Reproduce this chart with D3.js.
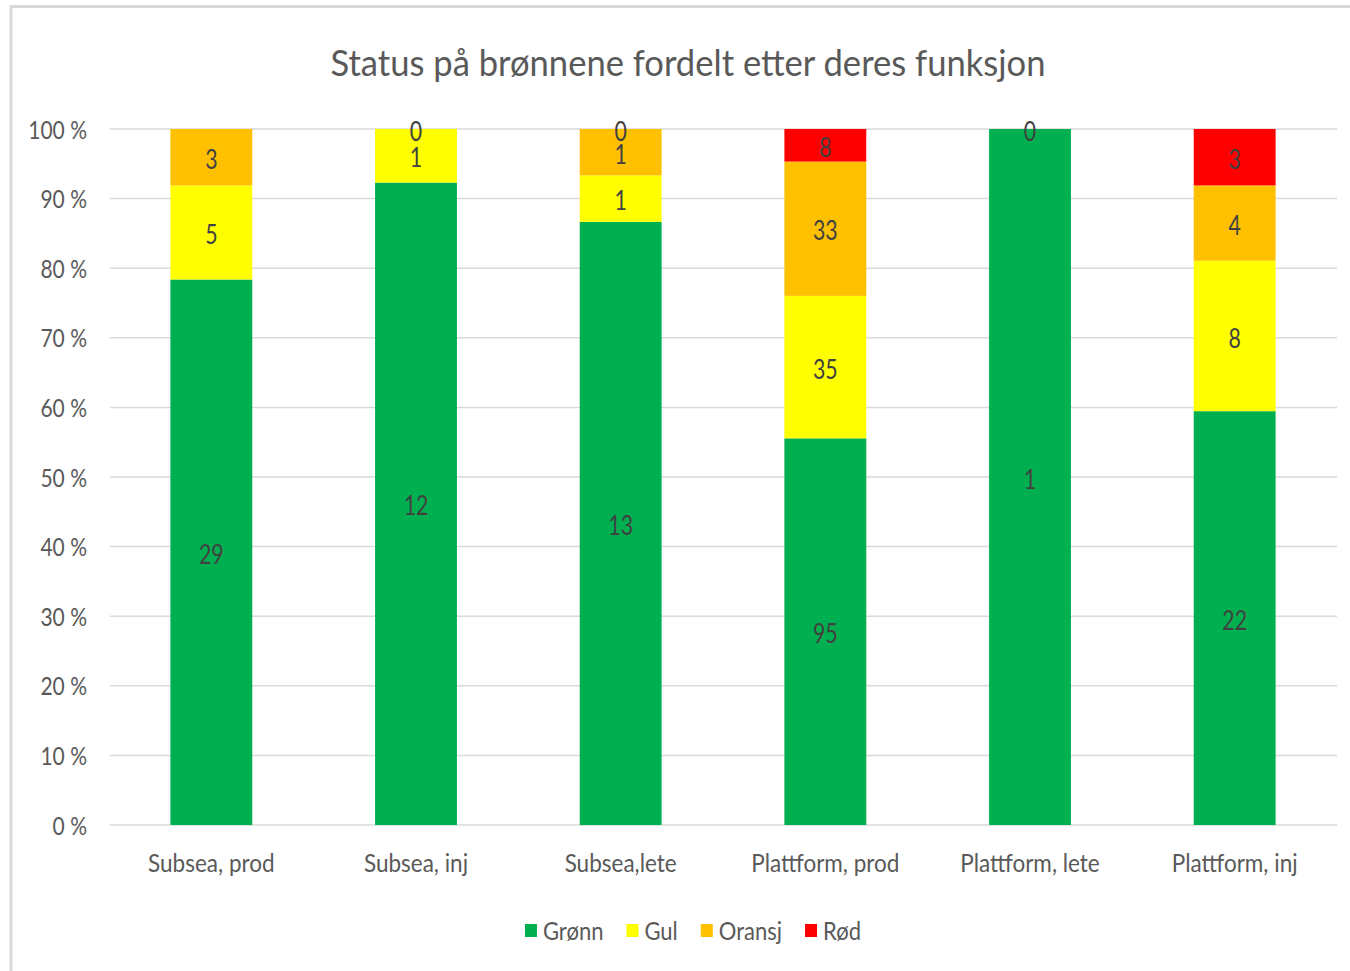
<!DOCTYPE html>
<html>
<head>
<meta charset="utf-8">
<script src="https://cdn.jsdelivr.net/npm/d3@7"></script>
<style>
	body { margin: 0; background: #fff; }
	svg text { font-family: Lato, 'Open Sans', sans-serif; }
</style>
</head>
<body>
<svg id="chart" width="1350" height="971"></svg>
<script>
const title = 'Status på brønnene fordelt etter deres funksjon'
const categories = ['Subsea, prod', 'Subsea, inj', 'Subsea,lete', 'Plattform, prod', 'Plattform, lete', 'Plattform, inj']
const seriesNames = ['Grønn', 'Gul', 'Oransj', 'Rød']
const gronn = [29, 12, 13, 95, 1, 22]
const gul = [5, 1, 1, 35, null, 8]
const oransj = [3, 0, 1, 33, null, 4]
const rod = [null, null, 0, 8, 0, 3]
const colors = ['#00b050', '#ffff00', '#ffc000', '#ff0000']
const yTicks = [0, 0.1, 0.2, 0.3, 0.4, 0.5, 0.6, 0.7, 0.8, 0.9, 1]

const W = 1350
const H = 971
const margin = { top: 129, right: 13, bottom: 146, left: 109 }

const svg = d3.select('#chart')

// squeeze text horizontally, the reference font is narrow and tall
function squeeze(sel, k) {
	sel.each(function() {
		const w = this.getComputedTextLength() * k
		this.__w = w
		d3.select(this)
			.attr('textLength', w)
			.attr('lengthAdjust', 'spacingAndGlyphs')
	})
}

// outer frame (only top and left edge visible)
svg.append('path')
	.attr('d', `M11,${H} V6.5 H${W}`)
	.attr('fill', 'none')
	.attr('stroke', '#d9d9d9')
	.attr('stroke-width', 3)

const rows = categories.map((c, i) => ({
	cat: c,
	'Grønn': gronn[i],
	'Gul': gul[i],
	'Oransj': oransj[i],
	'Rød': rod[i],
}))

const stack = d3.stack()
	.keys(seriesNames)
	.value((d, key) => d[key] == null ? 0 : d[key])
	.offset(d3.stackOffsetExpand)

const layers = stack(rows)

const x = d3.scaleBand()
	.domain(categories)
	.range([margin.left, W - margin.right])
	.paddingInner(0.6)
	.paddingOuter(0.3)

const y = d3.scaleLinear()
	.domain([0, 1])
	.range([H - margin.bottom, margin.top])

// gridlines
svg.append('g')
	.selectAll('line')
	.data(yTicks)
	.join('line')
		.attr('x1', 110)
		.attr('x2', W - 13)
		.attr('y1', d => y(d))
		.attr('y2', d => y(d))
		.attr('stroke', '#d9d9d9')
		.attr('stroke-width', 1.5)

// y tick labels
const yLab = svg.append('g')
	.selectAll('text')
	.data(yTicks)
	.join('text')
		.attr('x', 87)
		.attr('y', d => y(d))
		.attr('dy', '0.38em')
		.attr('text-anchor', 'end')
		.attr('fill', '#595959')
		.style('font-size', '25px')
		.text(d => `${Math.round(d * 100)} %`)
squeeze(yLab, 0.84)

// bars
const layer = svg.append('g')
	.selectAll('g')
	.data(layers)
	.join('g')
		.attr('fill', (d, i) => colors[i])

layer.selectAll('rect')
	.data(d => d)
	.join('rect')
		.attr('x', d => x(d.data.cat))
		.attr('width', x.bandwidth())
		.attr('y', d => y(d[1]))
		.attr('height', d => y(d[0]) - y(d[1]))

// data labels
const labelData = []
layers.forEach(l => {
	l.forEach(d => {
		const v = d.data[l.key]
		if (v != null) labelData.push({ cat: d.data.cat, v, mid: (d[0] + d[1]) / 2 })
	})
})

const dLab = svg.append('g')
	.selectAll('text')
	.data(labelData)
	.join('text')
		.attr('x', d => x(d.cat) + x.bandwidth() / 2)
		.attr('y', d => y(d.mid))
		.attr('dy', '0.45em')
		.attr('text-anchor', 'middle')
		.attr('fill', '#404040')
		.style('font-size', '26px')
		.text(d => d.v)
squeeze(dLab, 0.82)

// category labels
const xLab = svg.append('g')
	.selectAll('text')
	.data(categories)
	.join('text')
		.attr('x', d => x(d) + x.bandwidth() / 2)
		.attr('y', 872)
		.attr('text-anchor', 'middle')
		.attr('fill', '#595959')
		.style('font-size', '25px')
		.text(d => d)
squeeze(xLab, 0.9)

// title
const t = svg.append('text')
	.attr('x', 688)
	.attr('y', 76)
	.attr('text-anchor', 'middle')
	.attr('fill', '#595959')
	.style('font-size', '37px')
	.text(title)
t.attr('textLength', 715).attr('lengthAdjust', 'spacingAndGlyphs')

// legend
const legend = svg.append('g')
let lx = 0
seriesNames.forEach((name, i) => {
	const g = legend.append('g').attr('transform', `translate(${lx},0)`)
	g.append('rect')
		.attr('x', 0)
		.attr('y', -6)
		.attr('width', 12)
		.attr('height', 13)
		.attr('fill', colors[i])
	const txt = g.append('text')
		.attr('x', 18)
		.attr('dy', '0.38em')
		.attr('fill', '#595959')
		.style('font-size', '25px')
		.text(name)
	squeeze(txt, 0.88)
	lx += 18 + txt.node().__w + 23
})
const legendW = lx - 23
legend.attr('transform', `translate(${693 - legendW / 2},930)`)
</script>
</body>
</html>
